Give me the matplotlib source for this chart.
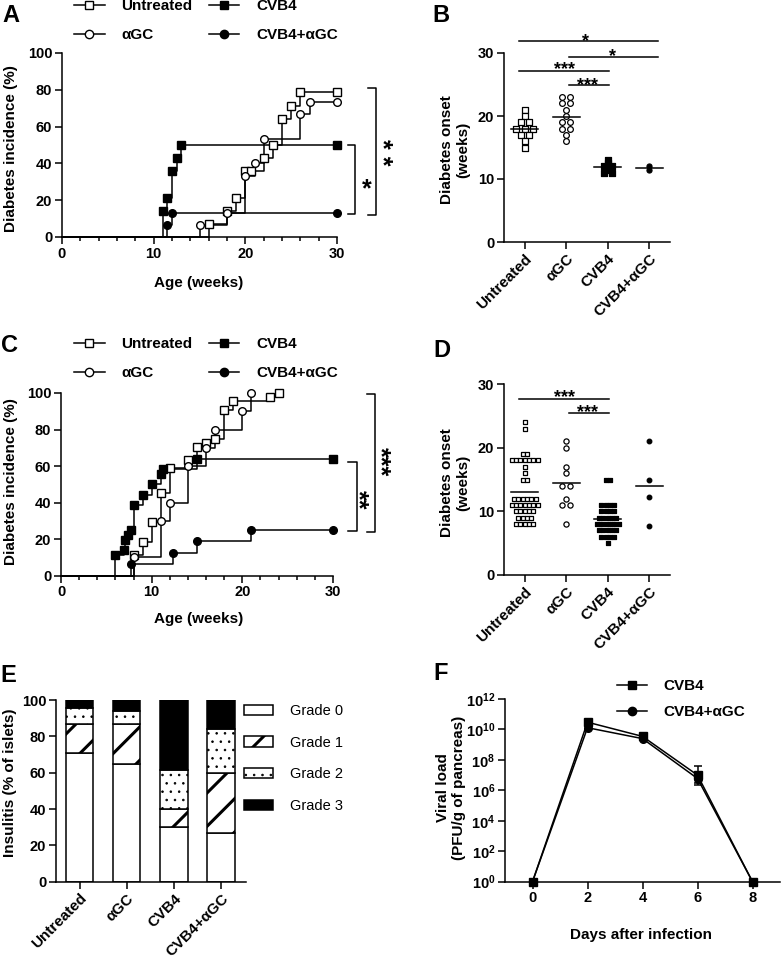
import numpy as np
import matplotlib
matplotlib.use("Agg")
import matplotlib.pyplot as plt
from matplotlib.lines import Line2D
import matplotlib.ticker as mticker

plt.rcParams['font.family'] = ['Liberation Sans', 'DejaVu Sans']
plt.rcParams['font.weight'] = 'bold'
plt.rcParams['axes.labelweight'] = 'bold'
plt.rcParams['font.size'] = 10.5
plt.rcParams['axes.linewidth'] = 1.1
plt.rcParams['hatch.linewidth'] = 2.0
plt.rcParams['mathtext.fontset'] = 'custom'
plt.rcParams['mathtext.bf'] = 'Liberation Sans:bold'
plt.rcParams['mathtext.rm'] = 'Liberation Sans:bold'

# ---------------- data ----------------
groups = ["Untreated", "αGC", "CVB4", "CVB4+αGC"]

# Panel A: cumulative diabetes incidence (%) at event times (weeks)
a_untreated_t = [16, 18, 19, 20, 20.6, 22, 23, 24, 25, 26]
a_untreated_y = [7.1, 14.3, 21.4, 35.7, 35.7, 42.9, 50.0, 64.3, 71.4, 78.6]
a_agc_t = [15, 18, 20, 21, 22, 26, 27]
a_agc_y = [6.7, 13.3, 33.3, 40.0, 53.3, 66.7, 73.3]
a_cvb4_t = [11, 11.5, 12, 12.5, 13]
a_cvb4_y = [14.3, 21.4, 35.7, 42.9, 50.0]
a_cvb4agc_t = [11.5, 12]
a_cvb4agc_y = [6.7, 13.3]
a_end = 30

# Panel B: diabetes onset (weeks)
b_untreated = [21, 20, 19, 19, 18, 18, 18, 17, 17, 16, 15]
b_agc = [23, 23, 22, 22, 21, 20, 19, 19, 18, 18, 17, 16]
b_cvb4 = [13, 12.5, 12, 12, 11.5, 11, 11]
b_cvb4agc = [11.5, 12]

# Panel C: cumulative diabetes incidence (%)
c_untreated_t = [8, 9, 10, 11, 12, 14, 15, 16, 17, 18, 19, 23, 24]
c_untreated_y = [11.4, 18.2, 29.5, 45.5, 59.1, 63.6, 70.5, 72.7, 75.0, 90.9, 95.5, 97.7, 100]
c_agc_t = [8, 11, 12, 14, 16, 17, 20, 21]
c_agc_y = [10, 30, 40, 60, 70, 80, 90, 100]
c_cvb4_t = [6, 7, 7.1, 7.4, 7.7, 8, 9, 10, 11, 11.2, 15]
c_cvb4_y = [11.1, 13.9, 19.4, 22.2, 25.0, 38.9, 44.4, 50.0, 55.6, 58.3, 63.9]
c_cvb4agc_t = [7.7, 12.3, 15, 21]
c_cvb4agc_y = [6.25, 12.5, 18.75, 25.0]
c_end = 30

# Panel D: diabetes onset (weeks)
d_untreated = [24, 23, 19, 19, 18, 18, 18, 18, 18, 18, 18, 17, 16, 15, 15,
               12, 12, 12, 12, 12, 12, 11, 11, 11, 11, 11, 11, 11,
               10, 10, 10, 10, 10, 9, 9, 9, 9, 8, 8, 8, 8, 8]
d_agc = [21, 20, 17, 16, 14, 14, 12, 11, 11, 8]
d_cvb4 = [15, 15, 11, 11, 11, 11, 10, 10, 10, 10, 9, 9, 9, 9, 9,
          8, 8, 8, 8, 8, 8, 7, 7, 7, 7, 7, 6, 6, 6, 6, 5]
d_cvb4agc = [21, 15, 12.3, 7.7]

# Panel E: insulitis grades (% of islets)
grades = ["Grade 0", "Grade 1", "Grade 2", "Grade 3"]
e_grade0 = [71, 65, 30, 27]
e_grade1 = [16, 22, 10, 33]
e_grade2 = [8.5, 7, 21.5, 24]
e_grade3 = [4.5, 6, 38.5, 16]

# Panel F: viral load (PFU/g of pancreas)
f_days = [0, 2, 4, 6, 8]
f_cvb4 = [1, 3e10, 3.5e9, 1.0e7, 1]
f_cvb4_lo = [0, 1e10, 1e9, 7.7e6, 0]
f_cvb4_hi = [0, 1.5e10, 1.5e9, 2.7e7, 0]
f_agc = [1, 1.3e10, 2.5e9, 6e6, 1]
f_agc_lo = [0, 4e9, 6e8, 3e6, 0]
f_agc_hi = [0, 5e9, 8e8, 8e6, 0]

# ---------------- figure ----------------
W, H = 782, 960
fig = plt.figure(figsize=(W / 100, H / 100), dpi=100)


def add_ax(l, t, r, b):
    return fig.add_axes([l / W, 1 - b / H, (r - l) / W, (b - t) / H])


def style(ax):
    for s in ['top', 'right']:
        ax.spines[s].set_visible(False)
    ax.tick_params(which='major', direction='out', width=1.1, length=5, labelsize=10.5, pad=2)
    ax.tick_params(which='minor', direction='out', width=1.1, length=3)


def km(ax, t, y, marker, fill, end=None):
    xs = [0] + list(t)
    ys = [0] + list(y)
    mx, my = list(t), list(y)
    if end is not None:
        xs.append(end); ys.append(y[-1]); mx.append(end); my.append(y[-1])
    ax.step(xs, ys, where='post', color='k', lw=1.1, clip_on=False, zorder=2)
    ax.plot(mx, my, ls='none', marker=marker, ms=5.5, mfc=fill, mec='k', mew=1.0,
            clip_on=False, zorder=3)


def dots(ax, i, vals, marker, fill, sp, s):
    vals = np.asarray(vals, float)
    off = np.zeros(len(vals))
    for v in np.unique(vals):
        idx = np.where(vals == v)[0]
        off[idx] = (np.arange(len(idx)) - (len(idx) - 1) / 2) * sp
    ax.scatter(i + off, vals, marker=marker, s=s, facecolors=fill, edgecolors='k',
               linewidths=0.9, clip_on=False, zorder=3)
    ax.plot([i - 0.33, i + 0.33], [vals.mean()] * 2, color='k', lw=1.1, zorder=4)


def star(ax, x, y, s, size):
    # horizontal stars, centred on (x, y)
    ax.annotate(s, (x, y), xytext=(0, -0.575 * size), textcoords='offset points',
                ha='center', va='baseline', fontsize=size, annotation_clip=False)


def vstar(ax, x, y, s, size):
    # vertical (rotated) stars, centred on (x, y)
    ax.annotate(s, (x, y), xytext=(-0.575 * size, 0), textcoords='offset points',
                ha='center', va='baseline', rotation=270, rotation_mode='anchor',
                fontsize=size, annotation_clip=False)


def hline(ax, x0, x1, y):
    ax.plot([x0, x1], [y, y], color='k', lw=1.1, clip_on=False)


def bracket(ax, x, xt, y0, y1):
    ax.plot([xt, x, x, xt], [y0, y0, y1, y1], color='k', lw=1.1, clip_on=False)


km_handles = [
    Line2D([], [], color='k', lw=1.1, marker='s', ms=6, mfc='white', mec='k'),
    Line2D([], [], color='k', lw=1.1, marker='o', ms=6, mfc='white', mec='k'),
    Line2D([], [], color='k', lw=1.1, marker='s', ms=6, mfc='k', mec='k'),
    Line2D([], [], color='k', lw=1.1, marker='o', ms=6, mfc='k', mec='k'),
]


def km_legend(ax, top_px):
    ax.legend(km_handles, groups, ncol=2, loc='upper left',
              bbox_to_anchor=(74 / W, 1 - top_px / H), bbox_transform=fig.transFigure,
              frameon=False, borderpad=0, borderaxespad=0, handlelength=2.0,
              handletextpad=1.1, columnspacing=1.05, labelspacing=0.95,
              prop={'weight': 'bold', 'size': 11})


def km_axes(ax):
    style(ax)
    ax.set_xlim(0, 30)
    ax.set_ylim(0, 100)
    ax.set_xticks([0, 10, 20, 30])
    ax.xaxis.set_minor_locator(mticker.MultipleLocator(2))
    ax.set_yticks([0, 20, 40, 60, 80, 100])
    ax.set_xlabel('Age (weeks)', fontsize=11)
    ax.set_ylabel('Diabetes incidence (%)', fontsize=11)


# ---------- A ----------
axA = add_ax(62, 53, 337, 237)
km_axes(axA)
km(axA, a_untreated_t, a_untreated_y, 's', 'white', a_end)
km(axA, a_agc_t, a_agc_y, 'o', 'white', a_end)
km(axA, a_cvb4_t, a_cvb4_y, 's', 'k', a_end)
km(axA, a_cvb4agc_t, a_cvb4agc_y, 'o', 'k', a_end)
bracket(axA, 32.0, 31.2, 50.0, 12.7)
bracket(axA, 34.3, 33.4, 80.9, 12.2)
star(axA, 33.2, 30, '*', 18)
vstar(axA, 35.6, 45.9, '* *', 18)
axA.yaxis.set_label_coords(-0.16, 0.482)
axA.xaxis.set_label_coords(0.495, -0.212)
km_legend(axA, -0.5)

# ---------- B ----------
axB = add_ax(504, 53, 670, 242)
style(axB)
axB.set_xlim(-0.5, 3.5)
axB.set_ylim(0, 30)
axB.set_yticks([0, 10, 20, 30])
dots(axB, 0, b_untreated, 's', 'white', 0.2, 15)
dots(axB, 1, b_agc, 'o', 'white', 0.2, 17)
dots(axB, 2, b_cvb4, 's', 'k', 0.2, 15)
dots(axB, 3, b_cvb4agc, 'o', 'k', 0.2, 13)
hline(axB, -0.14, 3.22, 31.9)
hline(axB, 1.06, 3.22, 29.4)
hline(axB, -0.14, 2.02, 27.1)
hline(axB, 1.06, 2.02, 24.9)
star(axB, 1.46, 32.8, '*', 13)
star(axB, 2.12, 30.4, '*', 13)
star(axB, 0.96, 28.3, '***', 13)
star(axB, 1.52, 25.8, '***', 13)
axB.set_xticks(range(4))
axB.set_xticklabels(groups, rotation=45, ha='right', rotation_mode='anchor', fontsize=11)
axB.set_ylabel('Diabetes onset\n(weeks)', fontsize=11)
axB.yaxis.set_label_coords(-0.205, 0.487)

# ---------- C ----------
axC = add_ax(61, 393, 333, 575.7)
km_axes(axC)
km(axC, c_untreated_t, c_untreated_y, 's', 'white')
km(axC, c_agc_t, c_agc_y, 'o', 'white')
km(axC, c_cvb4_t, c_cvb4_y, 's', 'k', c_end)
km(axC, c_cvb4agc_t, c_cvb4agc_y, 'o', 'k', c_end)
bracket(axC, 32.6, 31.65, 62.5, 24.7)
bracket(axC, 34.6, 33.7, 99.5, 24.1)
vstar(axC, 33.5, 41.7, '**', 18)
vstar(axC, 35.9, 62.5, '***', 18)
axC.yaxis.set_label_coords(-0.158, 0.514)
axC.xaxis.set_label_coords(0.505, -0.197)
km_legend(axC, 337.5)

# ---------- D ----------
axD = add_ax(504, 384, 670, 575)
style(axD)
axD.set_xlim(-0.5, 3.5)
axD.set_ylim(0, 30)
axD.set_yticks([0, 10, 20, 30])
dots(axD, 0, d_untreated, 's', 'white', 0.105, 12)
dots(axD, 1, d_agc, 'o', 'white', 0.2, 14)
dots(axD, 2, d_cvb4, 's', 'k', 0.105, 12)
dots(axD, 3, d_cvb4agc, 'o', 'k', 0.2, 11)
hline(axD, -0.14, 2.02, 27.6)
hline(axD, 1.06, 2.02, 25.5)
star(axD, 0.96, 28.8, '***', 13)
star(axD, 1.52, 26.4, '***', 13)
axD.set_xticks(range(4))
axD.set_xticklabels(groups, rotation=45, ha='right', rotation_mode='anchor', fontsize=11)
axD.set_ylabel('Diabetes onset\n(weeks)', fontsize=11)
axD.yaxis.set_label_coords(-0.205, 0.484)

# ---------- E ----------
axE = add_ax(56, 700, 246, 881.7)
style(axE)
x = np.arange(4)
g0 = np.array(e_grade0, float)
g1 = np.array(e_grade1, float)
g2 = np.array(e_grade2, float)
g3 = np.array(e_grade3, float)
bw = 0.58
hatch_lw = [1.1, 2.2, 0.6, 1.1]
bars = []
bars.append(axE.bar(x, g0, bw, color='white', edgecolor='k', lw=1.1, label=grades[0]))
bars.append(axE.bar(x, g1, bw, bottom=g0, color='white', edgecolor='k', lw=1.1,
                    hatch='/', label=grades[1]))
bars.append(axE.bar(x, g2, bw, bottom=g0 + g1, color='white', edgecolor='k', lw=1.1,
                    hatch='..', label=grades[2]))
bars.append(axE.bar(x, g3, bw, bottom=g0 + g1 + g2, color='k', edgecolor='k', lw=1.1,
                    label=grades[3]))
for bc, hl in zip(bars, hatch_lw):
    for p in bc.patches:
        if hasattr(p, 'set_hatch_linewidth'):
            p.set_hatch_linewidth(hl)
axE.set_xlim(-0.5, 3.53)
axE.set_ylim(0, 100)
axE.set_yticks([0, 20, 40, 60, 80, 100])
axE.set_xticks(range(4))
axE.set_xticklabels(groups, rotation=45, ha='right', rotation_mode='anchor', fontsize=11)
axE.set_ylabel('Insulitis (% of islets)', fontsize=11)
axE.yaxis.set_label_coords(-0.205, 0.543)
legE = axE.legend(loc='upper left', bbox_to_anchor=(244 / W, 1 - 704 / H),
                  bbox_transform=fig.transFigure, frameon=False, borderpad=0,
                  borderaxespad=0, handlelength=2.0, handleheight=0.7,
                  handletextpad=1.16, labelspacing=1.21,
                  prop={'weight': 'normal', 'size': 10.5})
for p, hl in zip(legE.get_patches(), hatch_lw):
    if hasattr(p, 'set_hatch_linewidth'):
        p.set_hatch_linewidth(hl)

# ---------- F ----------
axF = add_ax(505, 699, 780, 881.7)
style(axF)
axF.set_yscale('log')
axF.set_xlim(-1, 9)
axF.set_ylim(1, 1e12)
axF.set_xticks([0, 2, 4, 6, 8])
axF.yaxis.set_major_locator(mticker.FixedLocator([10.0 ** k for k in range(0, 13, 2)]))
axF.yaxis.set_minor_locator(mticker.NullLocator())
axF.yaxis.set_major_formatter(mticker.FuncFormatter(
    lambda v, p: r'$\mathbf{10^{%d}}$' % int(round(np.log10(v)))))
axF.errorbar(f_days, f_cvb4, yerr=[f_cvb4_lo, f_cvb4_hi], color='k', lw=1.1,
             marker='s', ms=5.5, mfc='k', mec='k', capsize=3, capthick=1.1,
             elinewidth=1.1, clip_on=False, label='CVB4', zorder=3)
axF.errorbar(f_days, f_agc, yerr=[f_agc_lo, f_agc_hi], color='k', lw=1.1,
             marker='o', ms=5.5, mfc='k', mec='k', capsize=3, capthick=1.1,
             elinewidth=1.1, clip_on=False, label='CVB4+αGC', zorder=3)
axF.set_xlabel('Days after infection', fontsize=11)
axF.set_ylabel('Viral load\n(PFU/g of pancreas)', fontsize=11)
axF.xaxis.set_label_coords(0.495, -0.253)
axF.yaxis.set_label_coords(-0.142, 0.513)
f_handles = [Line2D([], [], color='k', lw=1.1, marker='s', ms=6, mfc='k'),
             Line2D([], [], color='k', lw=1.1, marker='o', ms=6, mfc='k')]
axF.legend(f_handles, ['CVB4', 'CVB4+αGC'], loc='upper left',
           bbox_to_anchor=(617 / W, 1 - 679 / H), bbox_transform=fig.transFigure,
           frameon=False, borderpad=0, borderaxespad=0, handlelength=1.96,
           handletextpad=1.05, labelspacing=0.8, prop={'weight': 'bold', 'size': 11})

# ---------- panel letters ----------
for lab, px, py in [('A', 2, 22), ('B', 432, 22), ('C', 1, 352), ('D', 433, 357),
                    ('E', 0, 682), ('F', 433, 680)]:
    fig.text(px / W, 1 - py / H, lab, ha='left', va='baseline', fontsize=17,
             fontweight='bold')

fig.savefig('out.png', dpi=100)
